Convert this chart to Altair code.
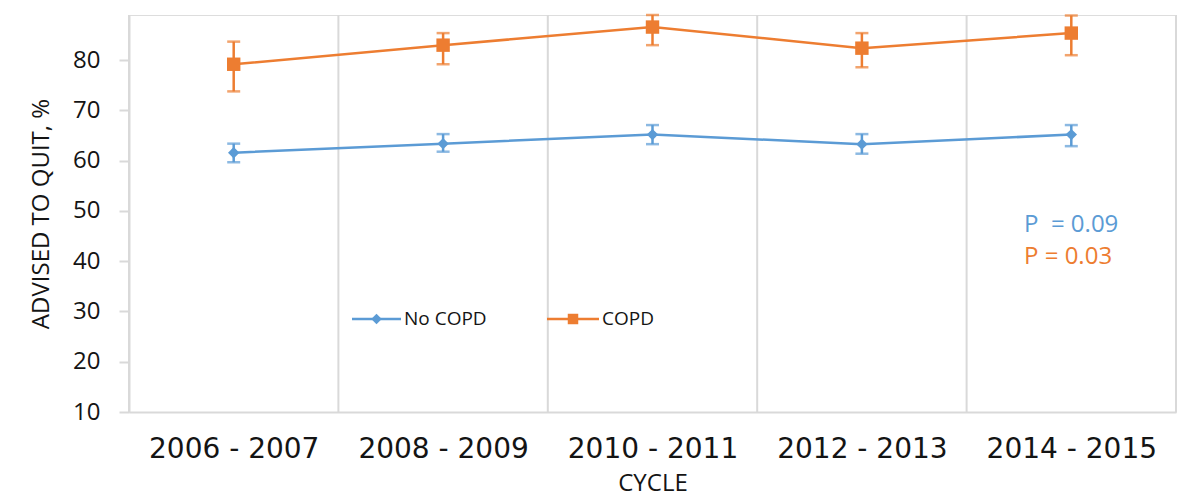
import altair as alt
import pandas as pd

cycles = ["2006 - 2007", "2008 - 2009", "2010 - 2011", "2012 - 2013", "2014 - 2015"]
series = ["No COPD", "COPD"]
no_copd = [61.6, 63.4, 65.2, 63.3, 65.2]
no_copd_lo = [59.7, 61.8, 63.3, 61.4, 62.9]
no_copd_hi = [63.4, 65.3, 67.1, 65.3, 67.1]
copd = [79.2, 83.0, 86.6, 82.4, 85.4]
copd_lo = [73.8, 79.2, 83.0, 78.6, 81.0]
copd_hi = [83.7, 85.4, 89.0, 85.4, 88.9]
p_labels = ["P\u00a0 = 0.09", "P = 0.03"]
colors = ["#5b9bd5", "#ed7d31"]
y_ticks = [10, 20, 30, 40, 50, 60, 70, 80]

rows = []
for i, c in enumerate(cycles):
    rows.append({"cycle": c, "series": series[0], "v": no_copd[i], "lo": no_copd_lo[i], "hi": no_copd_hi[i]})
    rows.append({"cycle": c, "series": series[1], "v": copd[i], "lo": copd_lo[i], "hi": copd_hi[i]})
df = pd.DataFrame(rows)
grid_df = pd.DataFrame({"cycle": cycles})

W, H = 1047, 397
GRID = "#d9d9d9"
TXT = "#141414"

color = alt.Color("series:N", scale=alt.Scale(domain=series, range=colors), legend=None)
shape = alt.Shape("series:N", scale=alt.Scale(domain=series, range=["diamond", "square"]), legend=None)
size = alt.Size("series:N", scale=alt.Scale(domain=series, range=[130, 180]), legend=None)

x_enc = alt.X("cycle:N", sort=cycles, scale=alt.Scale(type="point", padding=0.5),
              axis=alt.Axis(title="CYCLE", ticks=False, grid=False, domainColor=GRID, domainWidth=2,
                            labelFont="DejaVu Sans", labelFontSize=28, labelColor=TXT,
                            labelPadding=23, labelAngle=0,
                            titleFont="Open Sans", titleFontSize=24, titleFontWeight="normal",
                            titleColor=TXT, titlePadding=8))
y_scale = alt.Scale(domain=[10, 89], nice=False, zero=False)
y_axis = alt.Axis(title="ADVISED TO QUIT, %", values=y_ticks, grid=False, domainColor=GRID, domainWidth=2,
                  tickColor=GRID, tickWidth=2, tickSize=10,
                  labelFont="Open Sans", labelFontSize=24, labelColor=TXT, labelPadding=19,
                  titleFont="Open Sans", titleFontSize=24, titleFontWeight="normal", titleColor=TXT,
                  titlePadding=19)

base = alt.Chart(df)
lines = base.mark_line(strokeWidth=2.5).encode(x=x_enc, y=alt.Y("v:Q", scale=y_scale, axis=y_axis), color=color)
err = base.mark_rule(strokeWidth=2.5).encode(x="cycle:N", y="lo:Q", y2="hi:Q", color=color)
cap_lo = base.mark_tick(size=13, thickness=2.5).encode(x="cycle:N", y="lo:Q", color=color)
cap_hi = base.mark_tick(size=13, thickness=2.5).encode(x="cycle:N", y="hi:Q", color=color)
pts = base.mark_point(filled=True, opacity=1).encode(x="cycle:N", y="v:Q", color=color, shape=shape, size=size)

# legend (decoration)
leg = []
leg_x = [223, 418]
leg_len = [49, 52]
for i, s in enumerate(series):
    d = pd.DataFrame({"t": [s]})
    leg.append(alt.Chart(d).mark_rule(strokeWidth=2.5, color=colors[i]).encode(
        x=alt.value(leg_x[i]), x2=alt.value(leg_x[i] + leg_len[i]), y=alt.value(304)))
    leg.append(alt.Chart(d).mark_point(filled=True, opacity=1, color=colors[i],
                                       shape=["diamond", "square"][i], size=110).encode(
        x=alt.value(leg_x[i] + leg_len[i] / 2), y=alt.value(304)))
    leg.append(alt.Chart(d).mark_text(align="left", baseline="middle", font="Open Sans", fontSize=19,
                                      color=TXT).encode(
        x=alt.value(leg_x[i] + leg_len[i] + 3), y=alt.value(304), text="t:N"))
for i, p in enumerate(p_labels):
    d = pd.DataFrame({"t": [p]})
    leg.append(alt.Chart(d).mark_text(align="left", baseline="middle", font="Open Sans", fontSize=24,
                                      color=colors[i]).encode(
        x=alt.value(895), y=alt.value([210, 242][i]), text="t:N"))

data_layer = alt.layer(lines, err, cap_lo, cap_hi, pts, *leg)

gx = alt.Scale(type="band", paddingInner=0, paddingOuter=0)
grid_a = alt.Chart(grid_df).mark_rule(color=GRID, strokeWidth=2).encode(
    x=alt.X("cycle:N", sort=cycles, scale=gx, axis=None, bandPosition=0))
grid_b = alt.Chart(grid_df).transform_filter(alt.datum.cycle == cycles[-1]).mark_rule(
    color=GRID, strokeWidth=2).encode(
    x=alt.X("cycle:N", sort=cycles, scale=gx, axis=None, bandPosition=1))
grid_layer = alt.layer(grid_a, grid_b)

chart = alt.layer(grid_layer, data_layer).resolve_scale(x="independent").properties(
    width=W, height=H, padding={"left": 21, "top": 5, "right": 5, "bottom": 0}
).configure_view(stroke=None).configure(background="white")

chart.save("out.html", embed_options={"renderer": "svg", "actions": False})
